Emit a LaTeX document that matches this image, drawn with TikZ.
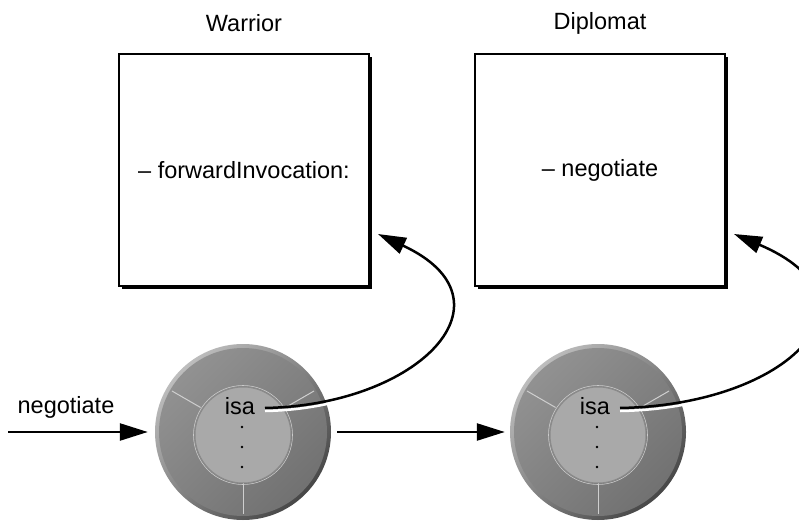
\documentclass[tikz,border=0pt]{standalone}
\usepackage{fontspec}
\setmainfont{Liberation Sans}
\usetikzlibrary{arrows.meta,positioning,shadows}

\definecolor{ringgray}{HTML}{7E7E7E}
\definecolor{rimlight}{HTML}{BDBDBD}
\definecolor{rimdark}{HTML}{474747}
\definecolor{diskgray}{HTML}{A9A9A9}
\definecolor{diskedge}{HTML}{8A8A8A}
\definecolor{spokegray}{HTML}{CFCFCF}

\tikzset{
  classbox/.style={draw=black,line width=2.5pt,fill=white,minimum width=250pt,minimum height=232pt,inner sep=0pt,
    drop shadow={opacity=1,fill=black,shadow xshift=3pt,shadow yshift=-3pt}},
  objring/.style={circle,minimum size=176pt,inner sep=0pt},
  msgarrow/.style={line width=2.5pt,-{Triangle[length=28pt,width=17pt]}},
  isaline/.style={line width=2.5pt,-{Triangle[length=28pt,width=17pt]}},
}

\begin{document}
\begin{tikzpicture}[x=1pt,y=-1pt,font=\fontsize{23.5}{28}\selectfont]
    \useasboundingbox (0,0) rectangle (799,521);
    % classes
    \node[classbox] (warrior) at (244,170) {-- forwardInvocation:};
    \node[classbox] (diplomat) at (600,170) {-- negotiate};
    \node (warriorname) at (244,23) {Warrior};
    \node (diplomatname) at (600,23) {Diplomat};
    % objects
    \node[objring] (obj1) at (243,432) {};
    \node[objring] (obj2) at (598,432) {};
    \foreach \o in {obj1,obj2} {
        \shade[top color=rimlight,bottom color=rimdark,shading angle=45] (\o.center) circle [radius=88];
        \shade[top color=ringgray!85!white,bottom color=ringgray!90!black,shading angle=45] (\o.center) circle [radius=84];
        \foreach \a in {210,-30,90}
            \draw[spokegray,line width=1pt] (\o.center) ++(\a:49) -- ++(\a:33);
        \fill[diskgray] (\o.center) ++(0,3) circle [radius=48];
        \draw[diskedge,line width=1pt] (\o.center) ++(0,3) circle [radius=48];
        \draw[diskgray!60!white,line width=0.6pt] (\o.center) ++(0,3) circle [radius=49.5];
        \foreach \d in {-5,15,35}
            \fill[black] (\o.center) ++(-1,\d) circle [radius=1.4];
    }
    \node (isa1) at (240,406) {isa};
    \node (isa2) at (595,406) {isa};
    \coordinate (isa1end) at (265,408);
    \coordinate (isa2end) at (620,408);
    \coordinate (wtarget) at (378,234);
    \coordinate (dtarget) at (734,234);
    % message
    \node (msg) at (66,407) {negotiate};
    \coordinate (msgstart) at (8,432);
    \draw[msgarrow,shorten >=7pt] (msgstart) -- (obj1.west);
    \draw[msgarrow,shorten <=6pt,shorten >=5pt] (obj1.east) -- (obj2.west);
    % isa pointers
    \draw[white,line width=2.5pt] ([yshift=-3pt]isa1end) .. controls (420,408) and (520,303) .. (wtarget);
    \draw[isaline] (isa1end) .. controls (420,405) and (520,300) .. (wtarget);
    \draw[white,line width=2.5pt] ([yshift=-3pt]isa2end) .. controls (790,408) and (890,303) .. (dtarget);
    \draw[isaline] (isa2end) .. controls (790,405) and (890,300) .. (dtarget);
\end{tikzpicture}
\end{document}
